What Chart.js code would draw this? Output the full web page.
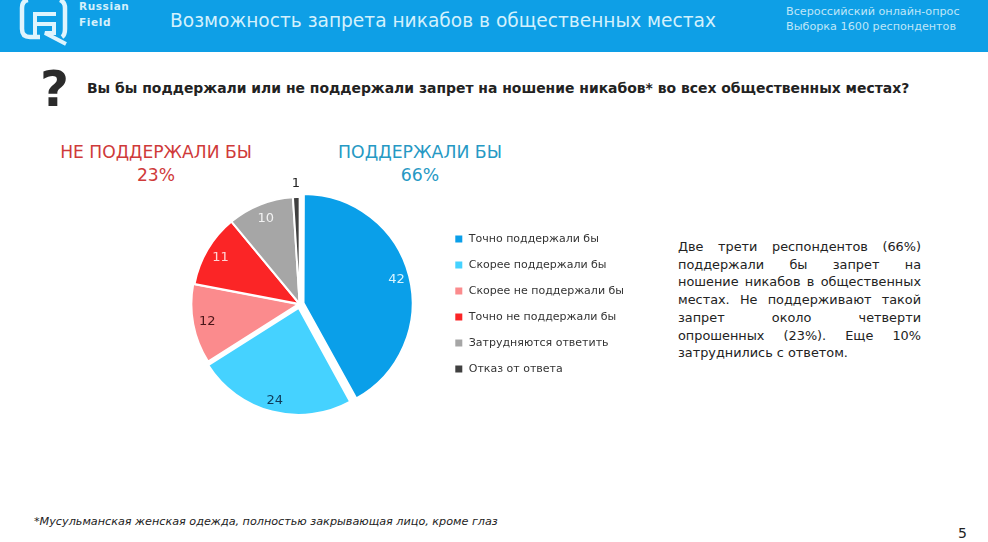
<!DOCTYPE html>
<html lang="ru"><head><meta charset="utf-8">
<script src="https://cdn.jsdelivr.net/npm/chart.js@4"></script>
<style>
html,body{margin:0;padding:0;background:#fff}
body{width:988px;height:542px;position:relative;overflow:hidden;font-family:"DejaVu Sans",sans-serif;color:#222}
.t{position:absolute;white-space:nowrap}
#hdr{position:absolute;left:0;top:0;width:988px;height:52px;background:#0e9fe6}
#wrap{position:absolute;left:160px;top:150px;width:474px;height:308px}
#side{position:absolute;left:678px;top:238px;width:243px;font-size:12.85px;line-height:17.7px;text-align:justify;color:#222}
</style></head><body>
<div id="hdr"></div>
<svg style="position:absolute;left:18px;top:0" width="52" height="48" viewBox="0 0 52 48" fill="none" stroke="#dff4fd" stroke-width="4.5">
<path d="M22 37H12Q4 37 4 29V8Q4 1 10 0M42 0Q47 2 47 8V29Q47 35 44 37"/>
<path d="M17 35V14H38M17 24H36V33H27L48 44" stroke-width="4"/>
</svg>
<div class="t" style="left:79px;top:0;font-size:10.5px;font-weight:bold;color:#d5f0fb;letter-spacing:.6px">Russian</div>
<div class="t" style="left:79px;top:16px;font-size:10.5px;font-weight:bold;color:#d5f0fb;letter-spacing:.6px">Field</div>
<div class="t" style="left:170px;top:10px;font-size:18.6px;color:#d3f1fd">Возможность запрета никабов в общественных местах</div>
<div class="t" style="left:786px;top:5px;font-size:11.2px;color:#bfe6f8">Всероссийский онлайн-опрос</div>
<div class="t" style="left:786px;top:20px;font-size:11.2px;color:#bfe6f8">Выборка 1600 респондентов</div>
<div class="t" style="left:40px;top:60px;font-size:50px;font-weight:bold;color:#2b2b2b">?</div>
<div class="t" style="left:87px;top:80px;font-size:13.93px;font-weight:bold;color:#222">Вы бы поддержали или не поддержали запрет на ношение никабов* во всех общественных местах?</div>
<div class="t" style="left:60px;top:141px;width:192px;text-align:center;font-size:17.15px;line-height:23px;color:#cf3a3a">НЕ ПОДДЕРЖАЛИ БЫ<br>23%</div>
<div class="t" style="left:338px;top:141px;width:164px;text-align:center;font-size:17.3px;line-height:23px;color:#2699c4">ПОДДЕРЖАЛИ БЫ<br>66%</div>
<div id="wrap"><canvas id="c"></canvas></div>
<div id="side">Две трети респондентов (66%) поддержали бы запрет на ношение никабов в общественных местах. Не поддерживают такой запрет около четверти опрошенных (23%). Еще 10% затруднились с ответом.</div>
<div class="t" style="left:34px;top:515px;font-size:11.2px;font-style:italic;color:#222">*Мусульманская женская одежда, полностью закрывающая лицо, кроме глаз</div>
<div class="t" style="left:958px;top:525px;font-size:14px;color:#222">5</div>
<script>
const categories = ["Точно поддержали бы","Скорее поддержали бы","Скорее не поддержали бы","Точно не поддержали бы","Затрудняются ответить","Отказ от ответа"];
const seriesValues = [42,24,12,11,10,1];
const sliceColors = ["#0a9fe9","#45d2ff","#fb8b8d","#fb2526","#a6a6a6","#404040"];
const labelColors = ["#d8f4ff","#0f3a58","#4a1518","#ffd5d5","#f2f2f2","#222222"];
const sliceOffsets = [16,16,4,0,0,0];
const labelRadial = [0.86,0.86,0.86,0.86,0.86,1.13];

const sliceLabels = {
  id:"sliceLabels",
  afterDatasetsDraw(chart){
    const ctx = chart.ctx, meta = chart.getDatasetMeta(0);
    ctx.save();
    ctx.font = '13px "DejaVu Sans"';
    ctx.textAlign = "center"; ctx.textBaseline = "middle";
    meta.data.forEach((arc,i)=>{
      const mid = (arc.startAngle+arc.endAngle)/2;
      const off = sliceOffsets[i]/2, r = arc.outerRadius*labelRadial[i];
      ctx.fillStyle = labelColors[i];
      ctx.fillText(String(seriesValues[i]), arc.x+Math.cos(mid)*(r+off), arc.y+Math.sin(mid)*(r+off));
    });
    ctx.restore();
  }
};
new Chart(document.getElementById("c"),{
  type:"pie",
  data:{labels:categories,datasets:[{data:seriesValues,backgroundColor:sliceColors,borderColor:"#fff",borderWidth:2,offset:sliceOffsets,radius:107}]},
  plugins:[sliceLabels],
  options:{
    responsive:true,maintainAspectRatio:false,animation:false,
    layout:{padding:0},
    plugins:{
      tooltip:{enabled:false},
      legend:{position:"right",align:"center",
        labels:{boxWidth:9,boxHeight:9,padding:15,color:"#333",font:{family:'"DejaVu Sans"',size:11}}}
    }
  }
});
</script>
</body></html>
